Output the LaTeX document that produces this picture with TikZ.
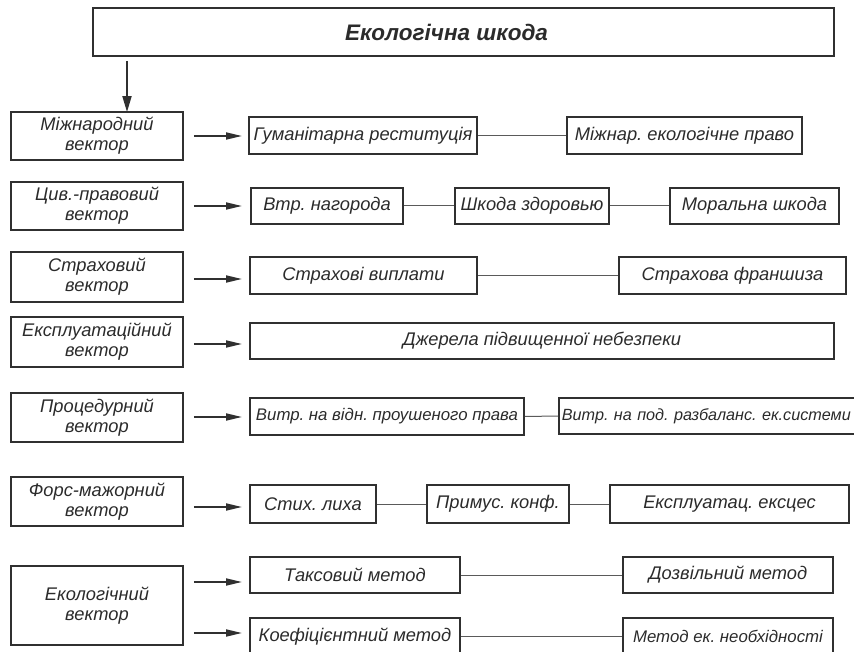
\documentclass[tikz,border=0pt]{standalone}
\usepackage{fontspec}
\setmainfont{Liberation Sans}
\usetikzlibrary{arrows.meta}
\definecolor{ink}{HTML}{2B2B2B}
\definecolor{edge}{HTML}{303030}
\definecolor{thin}{HTML}{5A5A5A}
\tikzset{
  box/.style={draw=edge, line width=1.8pt, inner sep=0pt, text=ink,
    font=\fontsize{18.3}{20}\selectfont\itshape, align=center},
  small/.style={font=\fontsize{16.8}{18}\selectfont\itshape},
  smaller/.style={font=\fontsize{16.2}{18}\selectfont\itshape},
  arr/.style={draw=edge, line width=1.8pt, -{Stealth[length=16pt,width=7pt,inset=0pt]}},
  link/.style={draw=thin, line width=1pt}
}
\begin{document}
\frenchspacing
\begin{tikzpicture}[x=1pt,y=-1pt]
\useasboundingbox (0,0) rectangle (854,652);
% title
\node[box, minimum width=741pt, minimum height=48pt, font=\fontsize{22.5}{24}\selectfont\bfseries\itshape] (T) at (463.5,32) {Екологічна шкода\hspace*{34pt}};
% left column
\node[box, minimum width=172pt, minimum height=48pt] (L1) at (97,136) {Міжнародний\\вектор};
\node[box, minimum width=172pt, minimum height=48pt] (L2) at (97,206) {Цив.-правовий\\вектор};
\node[box, minimum width=172pt, minimum height=50pt] (L3) at (97,277) {Страховий\\вектор};
\node[box, minimum width=172pt, minimum height=50pt] (L4) at (97,342) {Експлуатаційний\\вектор};
\node[box, minimum width=172pt, minimum height=49pt] (L5) at (97,417.5) {Процедурний\\вектор};
\node[box, minimum width=172pt, minimum height=49pt] (L6) at (97,501.5) {Форс-мажорний\\вектор};
\node[box, minimum width=172pt, minimum height=79pt] (L7) at (97,605.5) {Екологічний\\вектор};
% right boxes
\node[box, minimum width=228pt, minimum height=37pt] (R1a) at (363,135.5) {Гуманітарна реституція};
\node[box, minimum width=235pt, minimum height=37pt] (R1b) at (684.5,135.5) {Міжнар. екологічне право};
\node[box, minimum width=152pt, minimum height=36pt] (R2a) at (327,206) {Втр. нагорода};
\node[box, minimum width=154pt, minimum height=36pt] (R2b) at (532,206) {Шкода здоровью};
\node[box, minimum width=169pt, minimum height=36pt] (R2c) at (754.5,206) {Моральна шкода};
\node[box, minimum width=227pt, minimum height=37pt] (R3a) at (363.5,275.5) {Страхові виплати};
\node[box, minimum width=227pt, minimum height=37pt] (R3b) at (732.5,275.5) {Страхова франшиза};
\node[box, minimum width=584pt, minimum height=36pt] (R4) at (542,341) {Джерела підвищенної небезпеки};
\node[box, small, minimum width=274pt, minimum height=37pt] (R5a) at (387,416.5) {Витр. на відн. проушеного права};
\node[box, smaller, anchor=west, inner xsep=3pt, text width=310pt, align=left, minimum height=36pt] (R5b) at (558,416) {Витр. на под. разбаланс. ек.системи};
\node[box, minimum width=126pt, minimum height=38pt] (R6a) at (313,504) {Стих. лиха};
\node[box, minimum width=142pt, minimum height=38pt] (R6b) at (498,504) {Примус. конф.};
\node[box, minimum width=239pt, minimum height=38pt] (R6c) at (729.5,504) {Експлуатац. ексцес};
\node[box, minimum width=210pt, minimum height=36pt] (R7a) at (355,575) {Таксовий метод};
\node[box, minimum width=210pt, minimum height=36pt] (R7b) at (728,575) {Дозвільний метод};
\node[box, minimum width=210pt, minimum height=37pt] (R7c) at (355,636.5) {Коефіцієнтний метод};
\node[box, small, minimum width=210pt, minimum height=37pt] (R7d) at (728,636.5) {Метод ек. необхідності};
% arrow tips (free ends)
\coordinate (a1) at (242,136);
\coordinate (a2) at (242,206);
\coordinate (a3) at (242,279);
\coordinate (a4) at (242,344);
\coordinate (a5) at (242,417);
\coordinate (a6) at (242,507);
\coordinate (a7) at (242,582);
\coordinate (a8) at (242,633);
% connectors
\draw[arr, -{Stealth[length=16pt,width=9pt,inset=0pt]}] ([xshift=-336.5pt,yshift=-4pt]T.south) -- ([xshift=30pt,yshift=-1pt]L1.north);
\draw[arr] ([xshift=10pt]L1.east |- a1) -- (a1);
\draw[arr] ([xshift=10pt]L2.east |- a2) -- (a2);
\draw[arr] ([xshift=10pt]L3.east |- a3) -- (a3);
\draw[arr] ([xshift=10pt]L4.east |- a4) -- (a4);
\draw[arr] ([xshift=10pt]L5.east |- a5) -- (a5);
\draw[arr] ([xshift=10pt]L6.east |- a6) -- (a6);
\draw[arr] ([xshift=10pt]L7.east |- a7) -- (a7);
\draw[arr] ([xshift=10pt]L7.east |- a8) -- (a8);
\draw[link] (R1a) -- (R1b);
\draw[link] (R2a) -- (R2b);
\draw[link] (R2b) -- (R2c);
\draw[link] (R3a) -- (R3b);
\draw[link] (R5a.east) -- (R5b.west);
\draw[link] (R6a) -- (R6b);
\draw[link] (R6b) -- (R6c);
\draw[link] (R7a) -- (R7b);
\draw[link] (R7c) -- (R7d);
\end{tikzpicture}
\end{document}
